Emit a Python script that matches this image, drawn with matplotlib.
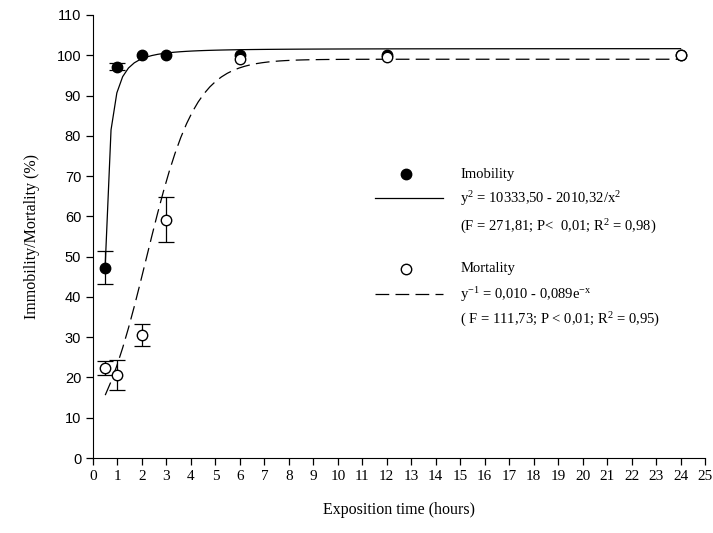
import numpy as np
import matplotlib
matplotlib.use("Agg")
import matplotlib.pyplot as plt

# ====================== data ======================
hours = [0.5, 1, 2, 3, 6, 12, 24]

imob_mean = [47.3, 97.2, 100.0, 100.0, 100.0, 100.0, 100.0]
imob_err = [4.0, 0.8, 0.0, 0.0, 0.0, 0.0, 0.0]

mort_mean = [22.3, 20.6, 30.5, 59.2, 99.0, 99.6, 100.0]
mort_err = [1.8, 3.8, 2.8, 5.6, 0.0, 0.0, 0.0]

# regression coefficients printed on the chart
IMOB_A, IMOB_B = 10333.50, 2010.32      # y^2 = a - b/x^2
MORT_A, MORT_B = 0.0101, 0.089          # y^-1 = a + b*e^-x

serif = "Liberation Serif"
sans = "Liberation Sans"

plt.rcParams["mathtext.fontset"] = "custom"
plt.rcParams["mathtext.rm"] = serif
plt.rcParams["mathtext.it"] = serif + ":italic"
plt.rcParams["mathtext.default"] = "regular"

fig = plt.figure(figsize=(7.13, 5.33), dpi=100)
ax = fig.add_axes([0.1304, 0.1407, 0.8585, 0.8312])

DASH = (11, 5)

# fitted curves (SigmaPlot style, 100 samples)
xf = np.linspace(0.5, 24, 100)
y_imob = np.sqrt(IMOB_A - IMOB_B / xf ** 2)
y_mort = 1.0 / (MORT_A + MORT_B * np.exp(-xf))
ax.plot(xf, y_imob, color="black", lw=0.9)
ax.plot(xf, y_mort, color="black", lw=0.9, dashes=DASH)


def draw_series(mean, err, face, z):
    # error bars only where there is a spread
    xs = [h for h, e in zip(hours, err) if e > 0]
    ys = [m for m, e in zip(mean, err) if e > 0]
    es = [e for e in err if e > 0]
    ax.errorbar(xs, ys, yerr=es, fmt="none", ecolor="black", capsize=6,
                elinewidth=0.9, capthick=0.9, zorder=z)
    ax.plot(hours, mean, "o", mfc=face, mec="black", mew=1.0, ms=7.5,
            zorder=z + 0.5)


draw_series(imob_mean, imob_err, "black", 3)
draw_series(mort_mean, mort_err, "white", 4)

ax.set_xlim(0, 25)
ax.set_ylim(0, 110)
ax.set_xticks(range(0, 26))
ax.set_yticks(range(0, 111, 10))
ax.spines["top"].set_visible(False)
ax.spines["right"].set_visible(False)
ax.tick_params(direction="out", length=5, width=0.9, color="black")
for lab in ax.get_xticklabels():
    lab.set_fontfamily(serif)
    lab.set_fontsize(11)
for lab in ax.get_yticklabels():
    lab.set_fontfamily(sans)
    lab.set_fontsize(10.5)

ax.set_xlabel("Exposition time (hours)", fontfamily=serif, fontsize=11.5, labelpad=14)
ax.set_ylabel("Immobility/Mortality (%)", fontfamily=serif, fontsize=11.5, labelpad=12)

# hand-built legend
tx = 15.0
kw = dict(fontfamily=serif, fontsize=10.5, va="center", ha="left")
ax.plot([12.8], [70.5], "o", color="black", ms=7.5)
ax.plot([11.5, 14.3], [64.5, 64.5], color="black", lw=0.9)
ax.text(tx, 70.5, "Imobility", **kw)
ax.text(tx, 64.5, r"y$^{2}$ = 10333,50 - 2010,32/x$^{2}$", **kw)
ax.text(tx, 57.5, r"(F = 271,81; P<  0,01; R$^{2}$ = 0,98)", **kw)

ax.plot([12.8], [47.0], "o", color="black", mfc="white", ms=7.5)
ax.plot([11.5, 14.3], [40.7, 40.7], color="black", lw=0.9, dashes=DASH)
ax.text(tx, 47.0, "Mortality", **kw)
ax.text(tx, 40.7, r"y$^{-1}$ = 0,010 - 0,089e$^{-x}$", **kw)
ax.text(tx, 34.3, r"( F = 111,73; P < 0,01; R$^{2}$ = 0,95)", **kw)

fig.savefig("out.png", dpi=100)
